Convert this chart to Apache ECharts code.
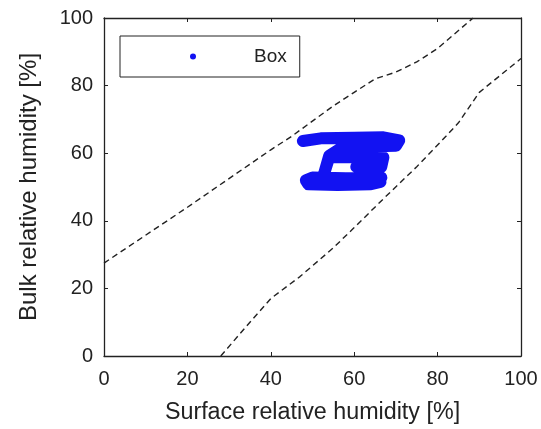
<!DOCTYPE html>
<html>
<head>
<meta charset="utf-8">
<script src="https://cdn.jsdelivr.net/npm/echarts@6/dist/echarts.min.js"></script>
<style>
  html, body { margin: 0; padding: 0; background: #fff; }
  #main { width: 541px; height: 429px; }
</style>
</head>
<body>
<div id="main"></div>
<script>
// upper / lower dashed envelope lines (surface RH, bulk RH)
var upperLine = [[0, 27.5], [20, 44], [40, 61], [45, 65], [55, 74], [60, 78], [65, 82], [70, 84], [75, 87], [80, 91], [88.5, 100]];
var lowerLine = [[28, 0], [35, 10], [40, 17], [47, 23.5], [55, 32], [60, 38], [67, 46.5], [75, 56], [82, 65], [85, 69], [90, 78], [95, 83], [100, 88]];

// measured box trajectory
var boxPath = [
  [47.7, 63.6], [52, 64.4], [60, 64.6], [67, 64.7], [70.8, 63.8], [70, 62.2], [63, 62], [57, 61.6],
  [54, 59.2], [52.8, 54], [54, 58.8], [60, 58.8], [67, 58.8], [66.5, 56], [60.5, 56],
  [66.5, 52.8], [58, 52.6], [50, 52.8], [48.4, 52], [49, 50.8], [56, 50.6], [64, 50.8], [66.3, 51.5]
];

var xTicks = [0, 20, 40, 60, 80, 100];
var yTicks = [0, 20, 40, 60, 80, 100];

var chart = echarts.init(document.getElementById('main'));
var fontFam = 'Liberation Sans, Arial, sans-serif';

var axisBase = {
  type: 'value', min: 0, max: 100, interval: 20,
  axisLine: { show: true, onZero: false, lineStyle: { color: '#222', width: 1.3 } },
  axisTick: { show: true, inside: true, length: 4, lineStyle: { color: '#222' } },
  splitLine: { show: false }
};

var option = {
  backgroundColor: '#fff',
  animation: false,
  grid: { left: 104, right: 20, top: 18, bottom: 71 },
  legend: {
    left: 120, top: 36,
    data: [{ name: 'Box', icon: 'circle' }],
    itemWidth: 6, itemHeight: 6,
    borderColor: '#222', borderWidth: 1, borderRadius: 0,
    backgroundColor: '#fff',
    padding: [11, 13, 11, 70],
    textStyle: { fontFamily: fontFam, fontSize: 19, color: '#222', padding: [0, 0, 0, 53] }
  },
  xAxis: [
    Object.assign({}, axisBase, {
      position: 'bottom',
      name: 'Surface relative humidity [%]', nameLocation: 'middle', nameGap: 45,
      nameTextStyle: { fontFamily: fontFam, fontSize: 23.3, color: '#222' },
      axisLabel: { fontFamily: fontFam, fontSize: 20, color: '#222', margin: 13,
        formatter: function (v) { return xTicks.indexOf(v) >= 0 ? v : ''; } }
    }),
    Object.assign({}, axisBase, { position: 'top', axisLabel: { show: false } })
  ],
  yAxis: [
    Object.assign({}, axisBase, {
      position: 'left',
      name: 'Bulk relative humidity [%]', nameLocation: 'middle', nameGap: 63,
      nameTextStyle: { fontFamily: fontFam, fontSize: 24, color: '#222' },
      axisLabel: { fontFamily: fontFam, fontSize: 20, color: '#222', margin: 11,
        formatter: function (v) { return yTicks.indexOf(v) >= 0 ? v : ''; } }
    }),
    Object.assign({}, axisBase, { position: 'right', axisLabel: { show: false } })
  ],
  series: [
    {
      name: 'upper', type: 'line', data: upperLine, showSymbol: false, silent: true,
      lineStyle: { color: '#222', width: 1.4, type: [6, 4] }, z: 2
    },
    {
      name: 'lower', type: 'line', data: lowerLine, showSymbol: false, silent: true,
      lineStyle: { color: '#222', width: 1.4, type: [6, 4] }, z: 2
    },
    {
      name: 'Box', type: 'line', data: boxPath, showSymbol: false,
      itemStyle: { color: '#1212f2' },
      lineStyle: { color: '#1212f2', width: 12, cap: 'round', join: 'round' }, z: 5
    }
  ]
};

chart.setOption(option);
</script>
</body>
</html>
